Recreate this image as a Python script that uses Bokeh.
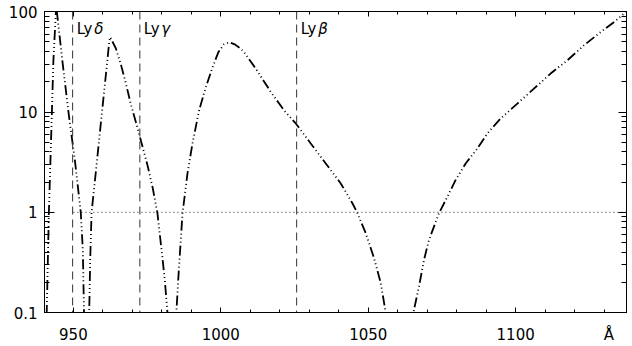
from bokeh.plotting import figure
from bokeh.models import (LinearAxis, LogAxis, SingleIntervalTicker, LogTicker, FixedTicker,
                          Span, Label, CustomJSTickFormatter, Range1d)
from bokeh.embed import file_html
from bokeh.resources import INLINE

# curve (wavelength in Angstrom, ratio on log scale)
wavelength = [940.5, 940.95, 941.69, 942.71, 943.22, 944.07, 944.25, 944.4, 946.4, 948.54,
              950.5, 952.5, 953.2, 953.6, 954.5, 955.36, 955.7, 956.17, 957.63, 959.32,
              960.68, 961.53, 962.2, 962.5, 963.05, 964.4, 966.1, 967.8, 969.5, 971.2,
              972.5, 975.2, 976.9, 978.5, 980.2, 981.0, 981.9, 983.4, 984.92, 985.76,
              987.02, 988.71, 990.41, 992.64, 994.92, 997.19, 999.15, 1001.02, 1002.88, 1004.75,
              1006.78, 1007.9, 1011.86, 1016.95, 1021.46, 1025.42, 1030.5, 1035.59, 1040.68, 1044.64,
              1046.34, 1049.15, 1051.97, 1054.24, 1055.93, 1060.5, 1065.32, 1067.22, 1068.92, 1070.61,
              1074.0, 1076.85, 1079.66, 1083.05, 1087.02, 1090.41, 1094.92, 1100.58, 1106.2, 1111.86,
              1117.53, 1123.15, 1128.81, 1133.32, 1136.71, 1139.0]
ratio = [0.03, 0.1, 1.0, 10.0, 32.7, 100.7, 130.0, 100.0, 29.9, 8.88,
         3.31, 1.0, 0.42, 0.1, 0.02, 0.1, 0.33, 1.0, 2.55, 7.79,
         18.9, 32.8, 52.0, 56.0, 51.8, 43.1, 29.9, 19.3, 11.9, 7.9,
         5.74, 2.89, 1.75, 0.98, 0.351, 0.212, 0.1, 0.02, 0.1, 0.267,
         0.98, 2.46, 4.89, 10.4, 17.7, 27.9, 39.4, 47.3, 49.5, 47.3,
         42.7, 39.6, 27.1, 15.86, 10.4, 7.69, 4.86, 3.07, 1.94, 1.23,
         0.98, 0.618, 0.349, 0.197, 0.1, 0.01, 0.1, 0.182, 0.335, 0.53,
         0.977, 1.43, 2.10, 3.07, 4.33, 6.11, 8.62, 12.15, 17.1, 24.2,
         32.8, 46.2, 62.7, 78.8, 95.5, 112.0]

lyman_names = ["\u03b4", "\u03b3", "\u03b2"]
lyman_waves = [949.74, 972.54, 1025.72]
x_label_ticks = [950, 1000, 1050, 1100, 1131.6]
x_unit_label = "\u00c5"
unity_level = 1.0
unity_start = 950.0

FONT = "DejaVu Sans"

p = figure(width=632, height=346, x_range=Range1d(940.2, 1137.6),
           y_range=Range1d(0.1, 100.7), y_axis_type="log",
           output_backend="svg", toolbar_location=None,
           min_border_left=44, min_border_right=6, min_border_top=11, min_border_bottom=33)
p.grid.visible = False
p.outline_line_color = "black"
p.outline_line_width = 1
p.background_fill_color = "white"
p.border_fill_color = "white"


def tick_style(ax, tin, minin):
    ax.major_tick_in = tin
    ax.major_tick_out = 0
    ax.minor_tick_in = minin
    ax.minor_tick_out = 0
    ax.axis_line_color = "black"
    ax.major_tick_line_color = "black"
    ax.minor_tick_line_color = "black"


# bottom: ticks only (labels drawn by a second axis)
xa = p.xaxis[0]
xa.ticker = SingleIntervalTicker(interval=50, num_minor_ticks=5)
tick_style(xa, 5, 3)
xa.major_label_text_font_size = "1px"
xa.major_label_text_alpha = 0
xa.major_label_standoff = 0

xlab = LinearAxis(ticker=FixedTicker(ticks=x_label_ticks, minor_ticks=[]),
                  formatter=CustomJSTickFormatter(args=dict(unit=x_unit_label),
                                                  code="return tick > 1120 ? unit : tick.toFixed(0)"),
                  axis_line_color=None, major_tick_line_color=None, minor_tick_line_color=None,
                  major_tick_in=0, major_tick_out=0, minor_tick_in=0, minor_tick_out=0,
                  major_label_standoff=13, major_label_text_font=FONT,
                  major_label_text_font_size="15px", major_label_text_color="black")
p.add_layout(xlab, "below")

ya = p.yaxis[0]
ya.ticker = LogTicker(num_minor_ticks=10)
ya.formatter = CustomJSTickFormatter(code="return String(tick)")
tick_style(ya, 10, 5)
ya.major_label_standoff = 7
ya.major_label_text_font = FONT
ya.major_label_text_font_size = "15px"
ya.major_label_text_color = "black"

top = LinearAxis(ticker=SingleIntervalTicker(interval=50, num_minor_ticks=5),
                 major_label_text_font_size="1px", major_label_text_alpha=0,
                 major_label_standoff=0)
tick_style(top, 5, 3)
p.add_layout(top, "above")
right = LogAxis(ticker=LogTicker(num_minor_ticks=10),
                major_label_text_font_size="1px", major_label_text_alpha=0,
                major_label_standoff=0)
tick_style(right, 8, 5)
p.add_layout(right, "right")

# horizontal dotted line at 1
p.segment(x0=[unity_start], y0=[unity_level], x1=[1140.0], y1=[unity_level],
          line_color="#222222", line_width=1, line_dash="1 3")

# Lyman lines
for w in lyman_waves:
    p.add_layout(Span(location=w, dimension="height", line_color="#333333",
                      line_width=1, line_dash="8 5"))

label_y = 67.4
for name, w in zip(lyman_names, lyman_waves):
    p.add_layout(Label(x=w, y=label_y, x_offset=4, text="Ly", text_baseline="alphabetic",
                       text_font=FONT, text_font_size="15px", text_color="black"))
    p.add_layout(Label(x=w, y=label_y, x_offset=21.5, text=name, text_baseline="alphabetic",
                       text_font=FONT, text_font_size="15px", text_font_style="italic",
                       text_color="black"))

p.line(wavelength, ratio, line_color="black", line_width=1.8,
       line_dash="10 3 1 3 1 3 1 3")

open("out.html", "w").write(file_html(p, INLINE))
